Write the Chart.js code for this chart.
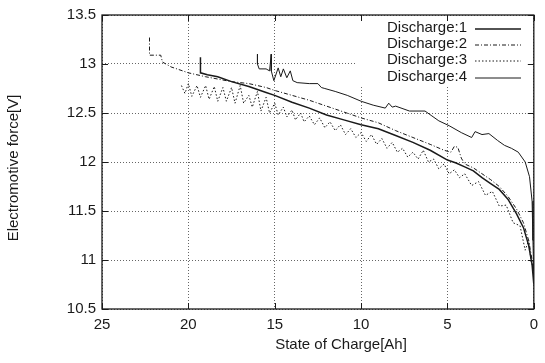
<!DOCTYPE html>
<html lang="en">
<head>
  <meta charset="UTF-8">
  <title>Electromotive force vs State of Charge</title>
  <style>
    body {
      margin: 0;
      background-color: #ffffff;
    }
    canvas {
      display: block;
    }
  </style>
  <script src="https://cdn.jsdelivr.net/npm/chart.js"></script>
</head>
<body>
  <canvas id="emfChart" width="545" height="363"></canvas>

  <script>
    // tick values
    const xTicks = [25, 20, 15, 10, 5, 0];
    const yTicks = [10.5, 11, 11.5, 12, 12.5, 13, 13.5];
    const seriesNames = ['Discharge:1', 'Discharge:2', 'Discharge:3', 'Discharge:4'];

    // Discharge:1 (solid)
    const d1X = [19.3, 19.3, 18.9, 18.3, 17.5, 16.5, 15.5, 15.0, 14.0, 13.0, 12.0, 11.0, 10.0, 9.0, 8.0, 7.0, 6.0, 5.0, 4.5, 4.0, 3.5, 3.0, 2.5, 2.0, 1.5, 1.0, 0.6, 0.3, 0.1, 0];
    const d1Y = [13.07, 12.91, 12.89, 12.87, 12.82, 12.77, 12.71, 12.68, 12.61, 12.55, 12.48, 12.43, 12.38, 12.34, 12.27, 12.2, 12.12, 12.02, 11.99, 11.95, 11.91, 11.84, 11.78, 11.72, 11.62, 11.47, 11.33, 11.15, 10.95, 10.75];

    // Discharge:2 (dash-dot)
    const d2X = [22.25, 22.25, 21.6, 21.5, 21.0, 20.0, 19.0, 18.4, 17.5, 16.5, 15.5, 15.0, 14.0, 13.0, 12.0, 11.0, 10.0, 9.0, 8.0, 7.0, 6.0, 5.2, 4.8, 4.6, 4.4, 4.2, 4.0, 3.5, 3.0, 2.5, 2.0, 1.5, 1.0, 0.6, 0.3, 0.1, 0];
    const d2Y = [13.27, 13.09, 13.09, 13.02, 12.97, 12.91, 12.87, 12.85, 12.82, 12.8, 12.76, 12.73, 12.68, 12.63, 12.57, 12.51, 12.45, 12.4, 12.32, 12.25, 12.18, 12.12, 12.1, 12.16, 12.15, 12.04, 11.98, 11.94, 11.88, 11.82, 11.75, 11.65, 11.52, 11.38, 11.2, 11.0, 10.85];

    // Discharge:3 (dotted)
    const d3X = [20.4, 20.2, 20.0, 19.8, 19.5, 19.3, 19.0, 18.8, 18.5, 18.3, 18.0, 17.8, 17.5, 17.3, 17.0, 16.8, 16.5, 16.3, 16.0, 15.8, 15.5, 15.3, 15.0, 14.8, 14.5, 14.3, 14.0, 13.8, 13.5, 13.3, 13.0, 12.7, 12.4, 12.1, 11.8, 11.5, 11.2, 10.9, 10.6, 10.3, 10.0, 9.7, 9.4, 9.1, 8.8, 8.5, 8.2, 7.9, 7.6, 7.3, 7.0, 6.7, 6.4, 6.1, 5.8, 5.5, 5.2, 4.9, 4.6, 4.3, 4.0, 3.6, 3.2, 2.8, 2.4, 2.0, 1.6, 1.2, 0.8, 0.5, 0.3, 0.15, 0];
    const d3Y = [12.78, 12.7, 12.8, 12.67, 12.78, 12.66, 12.78, 12.64, 12.77, 12.62, 12.76, 12.62, 12.76, 12.6, 12.78, 12.6, 12.68, 12.56, 12.72, 12.52, 12.66, 12.5, 12.6, 12.48, 12.56, 12.46, 12.53, 12.43, 12.5, 12.41, 12.47, 12.38, 12.45, 12.35, 12.41, 12.32, 12.38, 12.28, 12.34, 12.25, 12.3, 12.21, 12.28, 12.18, 12.24, 12.14, 12.2, 12.1, 12.14, 12.05, 12.1, 12.03, 12.12, 12.0, 12.03, 11.93, 11.98, 11.88, 11.92, 11.84, 11.88, 11.76, 11.8, 11.66, 11.7, 11.55, 11.56, 11.38, 11.35, 11.1, 11.2, 10.98, 10.9];

    // Discharge:4 (thin solid)
    const d4X = [16.0, 16.0, 15.9, 15.5, 15.3, 15.2, 15.2, 15.05, 14.8, 14.65, 14.5, 14.3, 14.1, 13.95, 13.7, 13.0, 12.5, 12.3, 12.1, 11.5, 10.8, 10.0, 9.3, 8.6, 8.4, 8.2, 8.0, 7.2, 6.3, 5.9, 5.5, 4.9, 4.2, 3.6, 3.4, 3.0, 2.6, 2.1, 1.7, 1.3, 0.9, 0.5, 0.25, 0.1, 0.05, 0];
    const d4Y = [13.1, 13.0, 12.95, 12.95, 12.93, 13.1, 12.93, 12.83, 12.96, 12.87, 12.95, 12.86, 12.93, 12.83, 12.81, 12.8, 12.8, 12.76, 12.75, 12.72, 12.68, 12.62, 12.58, 12.55, 12.6, 12.56, 12.57, 12.52, 12.52, 12.47, 12.42, 12.37, 12.3, 12.25, 12.31, 12.28, 12.29, 12.22, 12.17, 12.14, 12.1, 12.0, 11.85, 11.6, 11.2, 10.8];

    const FONT = '"Liberation Sans", Arial, Helvetica, sans-serif';
    const INK = '#1a1a1a';

    const toPoints = (xs, ys) => xs.map((x, i) => ({ x: x, y: ys[i] }));

    const lineStyles = [
      { width: 1.5, dash: [] },
      { width: 1, dash: [4, 2, 1, 2] },
      { width: 1, dash: [1.5, 2] },
      { width: 1, dash: [] }
    ];

    const allData = [toPoints(d1X, d1Y), toPoints(d2X, d2Y), toPoints(d3X, d3Y), toPoints(d4X, d4Y)];

    const datasets = allData.map((pts, i) => ({
      label: seriesNames[i],
      data: pts,
      showLine: true,
      borderColor: INK,
      borderWidth: lineStyles[i].width,
      borderDash: lineStyles[i].dash,
      pointRadius: 0,
      tension: 0,
      fill: false
    }));

    // white legend box drawn over the grid, before the curves
    const legendBox = {
      id: 'legendBox',
      beforeDatasetsDraw(chart) {
        const ctx = chart.ctx;
        const area = chart.chartArea;
        ctx.save();
        ctx.fillStyle = '#ffffff';
        ctx.fillRect(355, area.top + 1, area.right - 356, 71);
        ctx.font = '15px ' + FONT;
        ctx.fillStyle = INK;
        ctx.textAlign = 'right';
        ctx.textBaseline = 'middle';
        const rowY = [28, 44, 60, 77];
        seriesNames.forEach((name, i) => {
          ctx.fillText(name, 467, rowY[i]);
          ctx.beginPath();
          ctx.lineWidth = lineStyles[i].width;
          ctx.strokeStyle = INK;
          ctx.setLineDash(lineStyles[i].dash);
          ctx.moveTo(475, rowY[i] + 1);
          ctx.lineTo(521, rowY[i] + 1);
          ctx.stroke();
        });
        ctx.restore();
      }
    };

    // frame, inward mirror ticks and axis titles
    const frameAndTitles = {
      id: 'frameAndTitles',
      afterDraw(chart) {
        const ctx = chart.ctx;
        const area = chart.chartArea;
        const xs = chart.scales.x;
        const ys = chart.scales.y;
        ctx.save();
        ctx.strokeStyle = INK;
        ctx.lineWidth = 1.3;
        ctx.setLineDash([]);
        ctx.strokeRect(area.left, area.top, area.right - area.left, area.bottom - area.top);

        ctx.lineWidth = 1;
        ctx.beginPath();
        xTicks.forEach(v => {
          const px = Math.round(xs.getPixelForValue(v)) + 0.5;
          ctx.moveTo(px, area.bottom);
          ctx.lineTo(px, area.bottom - 6);
          ctx.moveTo(px, area.top);
          ctx.lineTo(px, area.top + 6);
        });
        yTicks.forEach(v => {
          const py = Math.round(ys.getPixelForValue(v)) + 0.5;
          ctx.moveTo(area.left, py);
          ctx.lineTo(area.left + 6, py);
          ctx.moveTo(area.right, py);
          ctx.lineTo(area.right - 6, py);
        });
        ctx.stroke();

        ctx.fillStyle = INK;
        ctx.font = '15px ' + FONT;
        ctx.textAlign = 'center';
        ctx.textBaseline = 'middle';
        ctx.fillText('State of Charge[Ah]', 341, 345);
        ctx.translate(14, 168);
        ctx.rotate(-Math.PI / 2);
        ctx.fillText('Electromotive force[V]', 0, 0);
        ctx.restore();
      }
    };

    new Chart(document.getElementById('emfChart').getContext('2d'), {
      type: 'scatter',
      data: { datasets: datasets },
      options: {
        responsive: false,
        animation: false,
        layout: { padding: { left: 0, top: 14, right: 6, bottom: 0 } },
        plugins: {
          legend: { display: false },
          tooltip: { enabled: false }
        },
        scales: {
          x: {
            type: 'linear',
            reverse: true,
            min: 0,
            max: 25,
            afterFit: scale => { scale.height = 54; },
            afterBuildTicks: scale => { scale.ticks = xTicks.map(v => ({ value: v })); },
            ticks: {
              padding: 7,
              color: INK,
              font: { family: FONT, size: 15 },
              maxRotation: 0,
              callback: v => String(v)
            },
            grid: { color: '#666', lineWidth: 1, drawTicks: false },
            border: { display: false, dash: [1, 2] }
          },
          y: {
            min: 10.5,
            max: 13.5,
            afterFit: scale => { scale.width = 102; },
            afterBuildTicks: scale => { scale.ticks = yTicks.map(v => ({ value: v })); },
            ticks: {
              padding: 6,
              color: INK,
              font: { family: FONT, size: 15 },
              callback: v => String(v)
            },
            grid: { color: '#666', lineWidth: 1, drawTicks: false },
            border: { display: false, dash: [1, 2] }
          }
        }
      },
      plugins: [legendBox, frameAndTitles]
    });
  </script>
</body>
</html>
